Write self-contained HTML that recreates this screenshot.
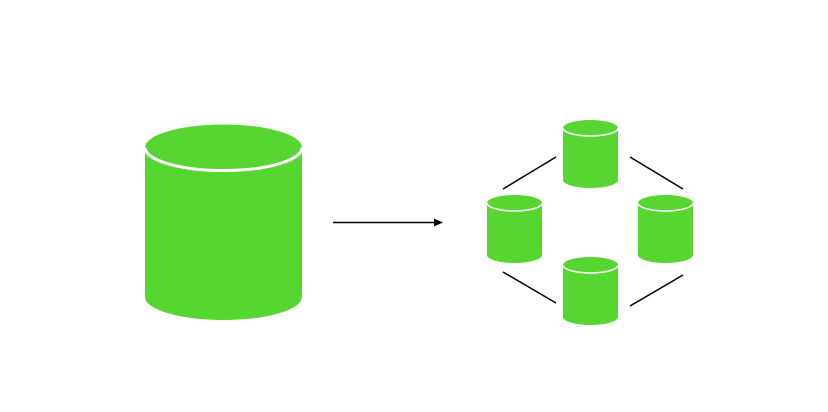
<!DOCTYPE html>
<html><head><style>body{margin:0;background:#fff}</style></head><body>
<svg width="828" height="407" xmlns="http://www.w3.org/2000/svg">
<defs>
<g id="c"><path d="M0,8 L0,60 A27.5,8 0 0 0 55,60 L55,8 Z" fill="#57d531"/>
<ellipse cx="27.5" cy="8" rx="27.5" ry="8" fill="#57d531"/>
<path d="M0,8 A27.5,8 0 0 0 55,8" fill="none" stroke="#fff" stroke-width="1.5"/></g>
</defs>
<path d="M145,147 L145,297 A78.5,23 0 0 0 302,297 L302,147 Z" fill="#57d531"/>
<ellipse cx="223.5" cy="147.5" rx="78.5" ry="23" fill="#57d531"/>
<path d="M145,147.5 A78.5,23 0 0 0 302,147.5" fill="none" stroke="#fff" stroke-width="3"/>
<line x1="333" y1="222.5" x2="436" y2="222.5" stroke="#000" stroke-width="1.5"/>
<polygon points="443,222.5 434,218.5 434,226.5" fill="#000"/>
<use href="#c" x="563" y="120"/>
<use href="#c" x="487" y="195"/>
<use href="#c" x="638" y="195"/>
<use href="#c" x="563" y="257"/>
<g stroke="#000" stroke-width="1.5">
<line x1="503" y1="189" x2="556" y2="157"/>
<line x1="630" y1="157" x2="683" y2="189"/>
<line x1="503" y1="272" x2="556" y2="303"/>
<line x1="630" y1="306" x2="683" y2="275"/>
</g>
</svg>
</body></html>
